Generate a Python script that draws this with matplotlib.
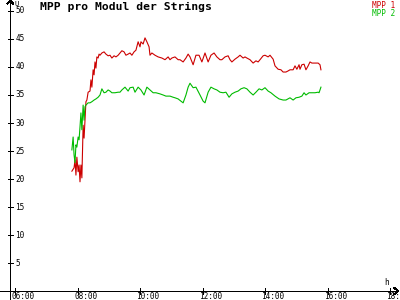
import numpy as np
import matplotlib
matplotlib.use("Agg")
from matplotlib import pyplot as plt

# MPP voltage per module, time in hours
t1 = [7.82, 7.89, 7.92, 7.95, 7.98, 8.02, 8.05, 8.08, 8.11, 8.14, 8.18, 8.21, 8.24, 8.27,
      8.30, 8.34, 8.40, 8.43, 8.46, 8.50, 8.53, 8.56, 8.59, 8.62, 8.66, 8.69, 8.72, 8.78,
      8.85, 8.91, 8.98, 9.04, 9.10, 9.17, 9.23, 9.30, 9.36, 9.42, 9.49, 9.55, 9.62, 9.68,
      9.74, 9.81, 9.87, 9.94, 10.00, 10.03, 10.10, 10.16, 10.22, 10.29, 10.32, 10.38, 10.48,
      10.58, 10.70, 10.80, 10.90, 10.96, 11.02, 11.12, 11.22, 11.28, 11.38, 11.47, 11.54,
      11.60, 11.70, 11.79, 11.89, 11.98, 12.08, 12.18, 12.27, 12.37, 12.46, 12.56, 12.62,
      12.72, 12.82, 12.88, 12.94, 13.04, 13.14, 13.20, 13.30, 13.36, 13.42, 13.52, 13.62,
      13.71, 13.78, 13.84, 13.94, 14.00, 14.10, 14.16, 14.26, 14.32, 14.42, 14.51, 14.58,
      14.67, 14.74, 14.80, 14.90, 14.96, 15.02, 15.09, 15.12, 15.18, 15.25, 15.31, 15.38,
      15.44, 15.50, 15.60, 15.70, 15.76, 15.79]
mpp1 = [21.4, 22.0, 23.4, 20.7, 23.9, 21.3, 22.5, 19.5, 22.5, 20.2, 29.6, 27.3, 30.5, 33.8,
        34.1, 35.5, 35.7, 37.7, 36.4, 39.5, 38.6, 40.9, 39.8, 41.8, 41.6, 42.3, 42.1, 42.5,
        42.7, 42.3, 42.0, 42.1, 41.6, 42.0, 41.8, 42.1, 42.5, 42.9, 42.7, 42.1, 42.3, 42.5,
        42.1, 42.7, 43.0, 44.5, 43.6, 44.5, 44.1, 45.2, 44.5, 43.6, 42.1, 42.5, 42.1,
        41.8, 41.6, 41.3, 41.8, 41.3, 41.6, 41.8, 41.3, 41.3, 40.9, 41.6, 42.3,
        41.8, 40.4, 42.1, 42.1, 40.9, 42.5, 40.9, 42.1, 42.5, 41.8, 41.3, 41.3,
        41.8, 42.0, 41.3, 40.9, 41.4, 41.8, 42.1, 41.6, 41.8, 41.6, 41.3, 40.7,
        41.1, 40.9, 41.3, 42.0, 42.1, 41.8, 42.1, 41.4, 40.2, 39.6, 39.5, 39.1,
        39.1, 39.3, 39.5, 39.5, 40.2, 39.6, 40.4, 39.6, 40.4, 40.5, 39.5, 40.2,
        40.9, 40.7, 40.7, 40.7, 40.4, 39.5]

t2 = [7.82, 7.86, 7.89, 7.92, 7.95, 7.98, 8.02, 8.05, 8.08, 8.11, 8.14, 8.18, 8.21, 8.24,
      8.27, 8.34, 8.40, 8.46, 8.53, 8.59, 8.66, 8.72, 8.78, 8.85, 8.91, 8.98, 9.04, 9.10,
      9.20, 9.30, 9.36, 9.42, 9.52, 9.62, 9.68, 9.78, 9.84, 9.94, 10.03, 10.13, 10.22, 10.32,
      10.42, 10.51, 10.64, 10.74, 10.83, 10.96, 11.06, 11.12, 11.22, 11.31, 11.38, 11.47,
      11.54, 11.60, 11.70, 11.79, 11.92, 12.02, 12.08, 12.18, 12.27, 12.37, 12.46, 12.56,
      12.66, 12.75, 12.85, 12.94, 13.04, 13.14, 13.23, 13.33, 13.42, 13.52, 13.62, 13.71,
      13.81, 13.90, 14.00, 14.10, 14.19, 14.32, 14.45, 14.58, 14.67, 14.80, 14.90, 14.99,
      15.09, 15.18, 15.25, 15.31, 15.41, 15.50, 15.60, 15.70, 15.73, 15.79]
mpp2 = [25.2, 27.5, 24.3, 22.9, 26.1, 25.7, 27.5, 27.0, 29.3, 31.8, 28.8, 33.2, 30.5, 32.9,
        33.2, 33.6, 33.6, 33.8, 34.1, 34.3, 34.6, 35.0, 36.1, 35.4, 35.5, 35.9, 35.7, 35.4,
        35.4, 35.5, 35.5, 35.9, 36.4, 35.7, 36.3, 36.4, 35.5, 36.4, 35.9, 35.0, 36.4, 35.9,
        35.4, 35.4, 35.2, 35.0, 34.8, 34.8, 34.6, 34.5, 34.3, 33.9, 33.6, 35.0,
        36.4, 37.1, 36.3, 36.4, 35.0, 33.9, 33.6, 35.5, 36.4, 36.1, 35.9, 35.5,
        35.4, 35.5, 34.6, 35.2, 35.5, 35.7, 36.1, 36.3, 36.1, 35.5, 35.0, 35.5,
        36.1, 35.9, 36.3, 35.7, 35.4, 34.8, 34.3, 34.1, 34.1, 34.5, 34.1, 34.5,
        34.6, 34.8, 35.4, 35.0, 35.4, 35.4, 35.4, 35.5, 35.4, 36.4]

y_ticks = [5, 10, 15, 20, 25, 30, 35, 40, 45, 50]
x_ticks = [6, 8, 10, 12, 14, 16, 18]
x_labels = ["06:00", "08:00", "10:00", "12:00", "14:00", "16:00", "18:00"]

red = "#cc0000"
green = "#00bb00"
mono = "DejaVu Sans Mono"
lw = 0.6

fig = plt.figure(figsize=(4, 3), dpi=100)
ax = fig.add_axes([0, 0, 1, 1])
ax.axis("off")
ax.set_xlim(5.52, 18.32)
ax.set_ylim(-1.6, 51.96)

x0 = 5.85  # position of the value axis

# axes with arrows
ax.plot([5.52, 18.26], [0, 0], color="black", lw=lw, antialiased=False)
ax.plot([x0, x0], [-1.6, 51.8], color="black", lw=lw, antialiased=False)
ax.plot([18.14, 18.26, 18.14], [0.55, 0, -0.55], color="black", lw=lw, antialiased=False)
ax.plot([x0 - 0.09, x0, x0 + 0.09], [51.3, 51.9, 51.3], color="black", lw=lw, antialiased=False)

for v in y_ticks:
    ax.plot([x0 - 0.09, x0 + 0.1], [v, v], color="black", lw=lw, antialiased=False)
    ax.annotate(str(v), (x0, v), xytext=(3.5, 0), textcoords="offset points",
                ha="left", va="center", fontsize=5.6, family=mono)

for h, lab in zip(x_ticks, x_labels):
    ax.plot([h, h], [-0.5, 0.55], color="black", lw=lw, antialiased=False)
    ax.annotate(lab, (h, 0), xytext=(-2.5, -6.0), textcoords="offset points",
                ha="left", va="baseline", fontsize=5.6, family=mono, annotation_clip=False)

ax.plot(t1, mpp1, color=red, lw=0.8)
ax.plot(t2, mpp2, color=green, lw=0.8)

fig.text(14 / 400, 1 - 0.5 / 300, "U", ha="left", va="top", fontsize=5.2, family=mono)
fig.text(384 / 400, 1 - 278 / 300, "h", ha="left", va="top", fontsize=5.6, family=mono)
fig.text(40 / 400, 1 - 2 / 300, "MPP pro Modul der Strings", ha="left", va="top",
         fontsize=8.2, family=mono, weight="bold")
fig.text(395 / 400, 1 - 1 / 300, "MPP 1", ha="right", va="top", fontsize=5.6,
         family=mono, color=red)
fig.text(395 / 400, 1 - 8.5 / 300, "MPP 2", ha="right", va="top", fontsize=5.6,
         family=mono, color=green)

fig.savefig("out.png", dpi=100)
